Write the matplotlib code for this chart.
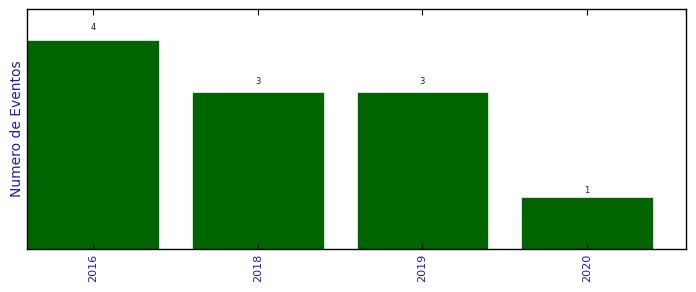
import matplotlib
matplotlib.use("Agg")
import matplotlib.pyplot as plt

years = ["2016", "2018", "2019", "2020"]
counts = [4, 3, 3, 1]

fig = plt.figure(figsize=(6.96, 2.92), dpi=100)
ax = fig.add_axes([27/696, 1-249/292, (686-27)/696, (249-9)/292])
x = list(range(len(years)))
bars = ax.bar(x, counts, width=0.8, color="#006400", edgecolor="#e0f0e0", linewidth=0.6)
for xi, c in zip(x, counts):
    ax.text(xi, c * 1.04, str(c), ha="center", va="bottom", fontsize=6, color="#222222")
ax.set_xlim(-0.4, len(years) - 0.4)
ax.set_ylim(0, max(counts) * 1.15)
ax.set_xticks(x)
ax.set_xticklabels(years, rotation=90, fontsize=8, color="#1c1cb4")
ax.set_yticks([])
ax.set_ylabel("Numero de Eventos", fontsize=10, color="#1c1cb4", labelpad=2)
ax.tick_params(axis="x", direction="in", top=True, length=4, width=0.8)
for s in ax.spines.values():
    s.set_linewidth(1.0)
fig.savefig("out.png", dpi=100)
